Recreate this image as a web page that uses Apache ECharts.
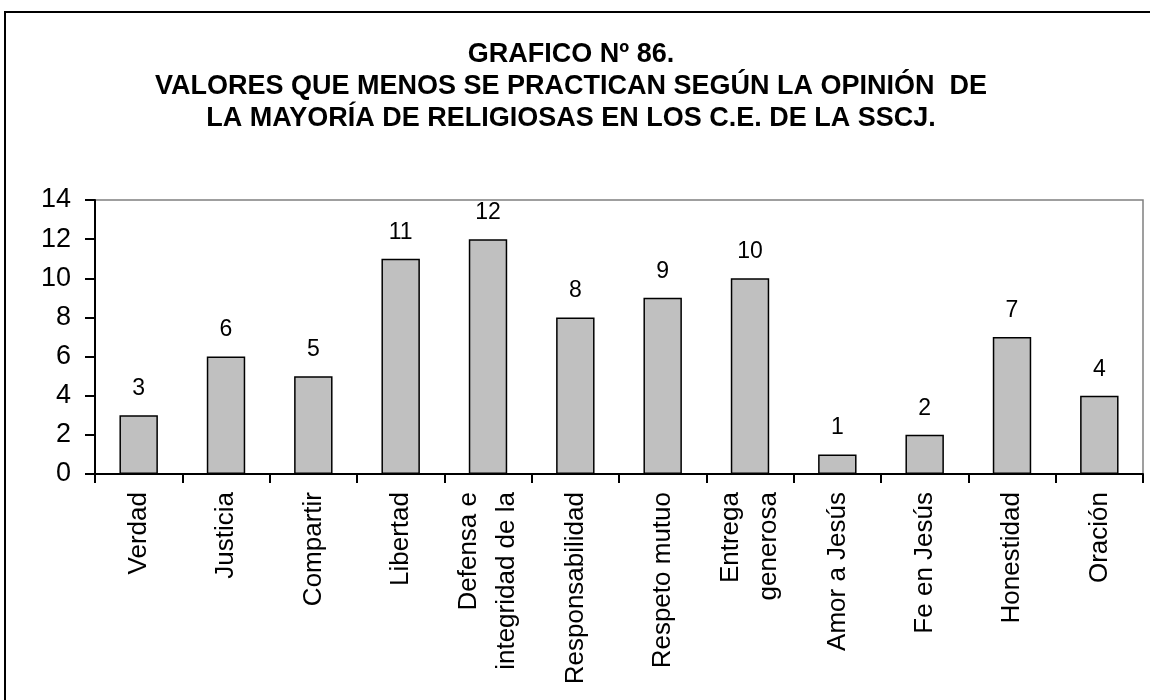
<!DOCTYPE html>
<html>
<head>
<meta charset="utf-8">
<script src="https://cdn.jsdelivr.net/npm/echarts@6/dist/echarts.min.js"></script>
<style>
  html, body { margin: 0; padding: 0; background: #ffffff; }
  #chart { width: 1150px; height: 700px; }
</style>
</head>
<body>
<div id="chart"></div>
<script>
// Values reported as least practised
const categories = [
  'Verdad', 'Justicia', 'Compartir', 'Libertad',
  'Defensa e\nintegridad de la', 'Responsabilidad', 'Respeto mutuo',
  'Entrega\ngenerosa', 'Amor a Jesús', 'Fe en Jesús', 'Honestidad', 'Oración'
];
const counts = [3, 6, 5, 11, 12, 8, 9, 10, 1, 2, 7, 4];
const titleLines = [
  'GRAFICO Nº 86.',
  'VALORES QUE MENOS SE PRACTICAN SEGÚN LA OPINIÓN  DE',
  'LA MAYORÍA DE RELIGIOSAS EN LOS C.E. DE LA SSCJ.'
];

const font = '"Liberation Sans", Arial, sans-serif';
const chart = echarts.init(document.getElementById('chart'), null, { renderer: 'canvas' });

chart.setOption({
  backgroundColor: '#ffffff',
  animation: false,
  title: {
    text: titleLines.join('\n'),
    left: 566,
    top: 34,
    textAlign: 'center',
    textStyle: {
      fontFamily: font,
      fontWeight: 'bold',
      fontSize: 27,
      lineHeight: 32,
      color: '#000'
    }
  },
  graphic: [
    {
      type: 'rect',
      shape: { x: 5, y: 12, width: 1200, height: 750 },
      style: { fill: null, stroke: '#000', lineWidth: 2 },
      silent: true
    }
  ],
  grid: {
    left: 95,
    right: 7,
    top: 200,
    bottom: 226,
    show: true,
    borderColor: '#808080',
    borderWidth: 1.5,
    backgroundColor: 'transparent'
  },
  xAxis: {
    type: 'category',
    data: categories,
    axisLine: { lineStyle: { color: '#000', width: 2 } },
    axisTick: { show: true, length: 9, lineStyle: { color: '#000', width: 2 } },
    axisLabel: {
      rotate: 90,
      interval: 0,
      margin: 18,
      fontFamily: font,
      fontSize: 26,
      lineHeight: 38,
      color: '#000'
    }
  },
  yAxis: {
    type: 'value',
    min: 0,
    max: 14,
    interval: 2,
    axisLine: { show: true, lineStyle: { color: '#000', width: 2 } },
    axisTick: { show: true, length: 10, lineStyle: { color: '#000', width: 2 } },
    splitLine: { show: false },
    axisLabel: {
      margin: 24,
      fontFamily: font,
      fontSize: 27,
      color: '#000'
    }
  },
  series: [
    {
      type: 'bar',
      data: counts,
      barWidth: '44%',
      itemStyle: { color: '#c0c0c0', borderColor: '#000', borderWidth: 1.5 },
      label: {
        show: true,
        position: 'top',
        distance: 15,
        fontFamily: font,
        fontSize: 23,
        color: '#000'
      }
    }
  ]
});
</script>
</body>
</html>
